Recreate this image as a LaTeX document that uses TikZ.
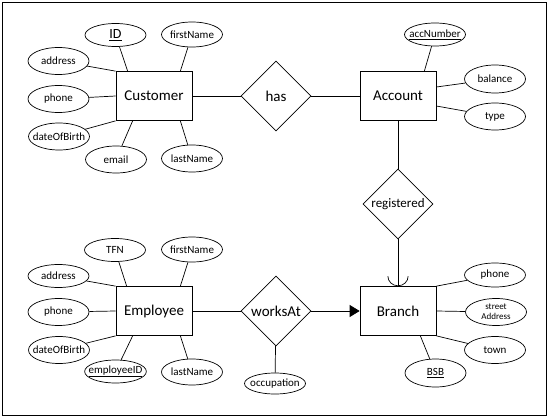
\documentclass[tikz,border=0pt]{standalone}
\usepackage{fontspec}
\setmainfont{Carlito}
\usetikzlibrary{shapes.geometric,arrows.meta}

\begin{document}
\begin{tikzpicture}[x=1pt,y=-1pt,line width=0.7pt,
  entity/.style={draw,rectangle,minimum width=76pt,minimum height=49pt,font=\fontsize{15}{18}\selectfont},
  rel/.style={draw,diamond,minimum width=70pt,minimum height=70pt,inner sep=0pt,font=\fontsize{15}{18}\selectfont},
  attr/.style={draw,ellipse,minimum width=61pt,minimum height=23pt,inner xsep=-5pt,inner ysep=0pt,font=\fontsize{11}{13}\selectfont}]
\useasboundingbox (0,0) rectangle (548,417);
\draw (2,2) rectangle (546,415);

% entities and relationships
\node[entity] (cust) at (154,96) {Customer};
\node[entity] (acc) at (398,96) {Account};
\node[entity] (emp) at (154,311) {Employee};
\node[entity] (br) at (398,311) {Branch};
\node[rel] (has) at (276,96) {has};
\node[rel,font=\fontsize{13}{15}\selectfont] (reg) at (398,204) {registered};
\node[rel] (works) at (276,311) {worksAt};

% customer attributes
\node[attr,font=\fontsize{14}{16}\selectfont] (cid) at (115.5,35) {\underline{ID}};
\node[attr,minimum height=25pt] (cfn) at (192,34.5) {firstName};
\node[attr,minimum height=27pt] (cad) at (58.5,61) {address};
\node[attr,minimum height=27pt] (cph) at (58.5,99) {phone};
\node[attr,minimum height=27pt] (cdob) at (59,136.5) {dateOfBirth};
\node[attr,minimum height=27pt] (cem) at (116,159.5) {email};
\node[attr,minimum height=27pt] (cln) at (192,158.5) {lastName};

% account attributes
\node[attr] (anum) at (435,34.5) {\underline{accNumber}};
\node[attr,minimum height=28pt] (abal) at (495,79) {balance};
\node[attr,minimum height=27pt] (atype) at (495,116.5) {type};

% employee attributes
\node[attr] (etfn) at (115,250) {TFN};
\node[attr,minimum height=25pt] (efn) at (192,249.5) {firstName};
\node[attr] (ead) at (58.5,276) {address};
\node[attr,minimum height=27pt] (eph) at (58.5,312) {phone};
\node[attr,minimum height=27pt] (edob) at (59,350) {dateOfBirth};
\node[attr] (eid) at (115.5,371.5) {\underline{employeeID}};
\node[attr,minimum height=26pt] (eln) at (192,372) {lastName};
\node[attr,minimum height=21pt] (occ) at (275,383.5) {occupation};

% branch attributes
\node[attr,minimum height=24pt] (bph) at (495,275) {phone};
\node[attr,minimum height=27pt,align=center,font=\fontsize{9}{10}\selectfont] (bst) at (496,312) {street\\Address};
\node[attr,minimum height=27pt] (btown) at (495,350) {town};
\node[attr,minimum height=28pt] (bsb) at (435.5,373) {\underline{BSB}};

% relationships
\draw (cust) -- (has) -- (acc);
\draw (acc) -- (reg);
\draw[-{Arc Barb[length=10pt,width=21pt]}] (reg) -- (br);
\draw (emp) -- (works);
\draw[-{Triangle[length=10pt,width=12pt]}] (works) -- (br);
\draw (works) -- (occ);

% attribute links
\draw (cid) -- ([xshift=12pt]cust.north west);
\draw (cfn) -- ([xshift=-12pt]cust.north east);
\draw (cad) -- (cust.north west);
\draw (cph) -- (cust.west);
\draw (cdob) -- (cust.south west);
\draw (cem) -- ([xshift=17pt]cust.south west);
\draw (cln) -- ([xshift=-12pt]cust.south east);
\draw (anum) -- ([xshift=-12pt]acc.north east);
\draw (abal) -- ([yshift=9pt]acc.east);
\draw (atype) -- ([yshift=-10pt]acc.east);
\draw (etfn) -- ([xshift=11pt]emp.north west);
\draw (efn) -- ([xshift=-12pt]emp.north east);
\draw (ead) -- (emp.north west);
\draw (eph) -- (emp.west);
\draw (edob) -- (emp.south west);
\draw (eid) -- ([xshift=17pt]emp.south west);
\draw (eln) -- ([xshift=-12pt]emp.south east);
\draw (bph) -- (br.north east);
\draw (bst) -- (br.east);
\draw (btown) -- (br.south east);
\draw (bsb) -- ([xshift=-16pt]br.south east);
\end{tikzpicture}
\end{document}
